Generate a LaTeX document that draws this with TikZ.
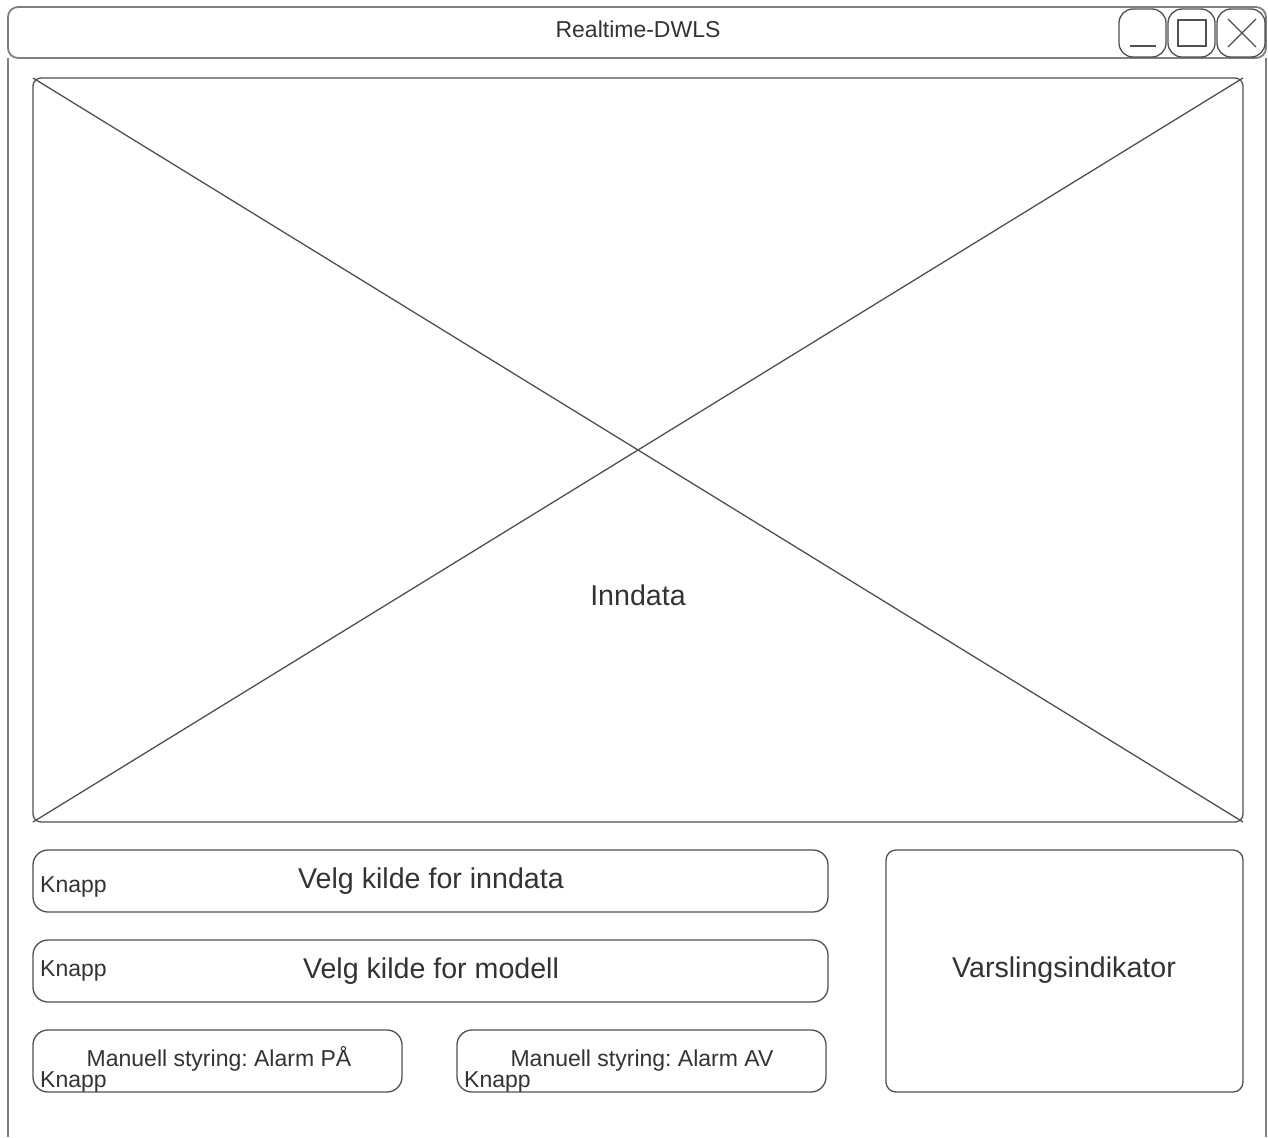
\documentclass[tikz,border=0pt]{standalone}
\usepackage{fontspec}
\setmainfont{Liberation Sans}
\frenchspacing
\definecolor{linec}{HTML}{505050}
\definecolor{winc}{HTML}{808080}
\definecolor{txt}{HTML}{333333}
\begin{document}
\frenchspacing
\begin{tikzpicture}[x=1pt,y=-1pt,
  shapeline/.style={draw=linec,line width=1.3pt},
  winline/.style={draw=winc,line width=1.8pt},
  box/.style={shapeline, rectangle, inner sep=0pt, outer sep=0pt, anchor=north west},
  big/.style={font=\fontsize{28.6}{34}\selectfont, text=txt, inner sep=0pt},
  small/.style={font=\fontsize{23}{27}\selectfont, text=txt, inner sep=0pt}]
\useasboundingbox[fill=white] (0,0) rectangle (1268,1137);

% window frame
\node[box, winline, rounded corners=10pt, minimum width=1258pt, minimum height=51pt] (titlebar) at (8,7) {};
\coordinate (bl) at (8,1137);
\coordinate (br) at (1266,1137);
\draw[winline] (titlebar.south west) -- (bl);
\draw[winline] (titlebar.south east) -- (br);

% window buttons
\node[box, rounded corners=14pt, minimum width=47pt, minimum height=48pt] (bmin) at (1119,9) {};
\node[box, rounded corners=14pt, minimum width=47pt, minimum height=48pt] (bmax) at (1168,9) {};
\node[box, rounded corners=14pt, minimum width=48pt, minimum height=48pt] (bclose) at (1217,9) {};
\coordinate (ma) at (1130,46);
\coordinate (mb) at (1156,46);
\draw[shapeline] (ma) -- (mb);
\node[shapeline, rectangle, inner sep=0pt, minimum width=28pt, minimum height=26pt] (maxsq) at (1192,33) {};
\coordinate (xa) at (1228,19);
\coordinate (xb) at (1256,47);
\coordinate (xc) at (1256,19);
\coordinate (xd) at (1228,47);
\draw[shapeline] (xa) -- (xb);
\draw[shapeline] (xc) -- (xd);

\node[small, anchor=base] (ttl) at (638,38) {Realtime-DWLS};

% image placeholder
\node[box, rounded corners=8pt, minimum width=1210pt, minimum height=744pt] (img) at (33,78) {};
\draw[shapeline] (img.north west) -- (img.south east);
\draw[shapeline] (img.north east) -- (img.south west);
\node[big, anchor=base] (inn) at (638,605) {Inndata};

% buttons
\node[box, rounded corners=15pt, minimum width=795pt, minimum height=62pt] (b1) at (33,850) {};
\node[box, rounded corners=15pt, minimum width=795pt, minimum height=62pt] (b2) at (33,940) {};
\node[box, rounded corners=15pt, minimum width=369pt, minimum height=62pt] (b3) at (33,1030) {};
\node[box, rounded corners=15pt, minimum width=369pt, minimum height=62pt] (b4) at (457,1030) {};
\node[box, rounded corners=10pt, minimum width=357pt, minimum height=242pt] (ind) at (886,850) {};

\node[big, anchor=base] (t1) at (431,888) {Velg kilde for inndata};
\node[small, anchor=base west] (k1) at (40,892) {Knapp};
\node[big, anchor=base] (t2) at (431,978) {Velg kilde for modell};
\node[small, anchor=base west] (k2) at (40,976) {Knapp};
\node[small, anchor=base] (t3) at (219,1066) {Manuell styring: Alarm PÅ};
\node[small, anchor=base west] (k3) at (40,1087) {Knapp};
\node[small, anchor=base] (t4) at (642,1066) {Manuell styring: Alarm AV};
\node[small, anchor=base west] (k4) at (464,1087) {Knapp};
\node[big, anchor=base] (t5) at (1064,977) {Varslingsindikator};
\end{tikzpicture}
\end{document}
